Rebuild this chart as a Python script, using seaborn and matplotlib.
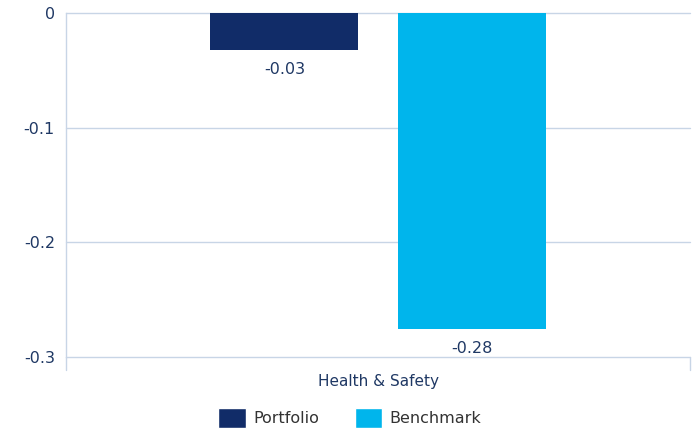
import matplotlib
matplotlib.use("Agg")
import matplotlib.pyplot as plt
import seaborn as sns
import pandas as pd
from matplotlib.patches import Patch
from matplotlib.lines import Line2D

categories = ["Health & Safety"]
series = ["Portfolio", "Benchmark"]
portfolio = [-0.032]
benchmark = [-0.276]
yticks = [0, -0.1, -0.2, -0.3]
ytick_labels = ["0", "-0.1", "-0.2", "-0.3"]

colors = {"Portfolio": "#112C68", "Benchmark": "#00B5EC"}
text_color = "#1F3864"
grid_color = "#C8D5E6"

df = pd.DataFrame({
    "category": categories * 2,
    "series": ["Portfolio"] * len(categories) + ["Benchmark"] * len(categories),
    "value": portfolio + benchmark,
})

sns.set_theme(style="white")
plt.rcParams["font.family"] = ["DejaVu Sans"]

fig = plt.figure(figsize=(7, 4.32), dpi=100)
ax = fig.add_axes([66 / 700, 1 - 357 / 432, (690 - 66) / 700, (357 - 13) / 432])

sns.barplot(data=df, x="category", y="value", hue="series", hue_order=series,
            palette=colors, width=0.6, gap=0.21, saturation=1, ax=ax,
            legend=False, errorbar=None, linewidth=0, edgecolor="none")

ax.set_ylim(-0.3, 0)
ax.set_xlim(-0.5, 0.5)
ax.set_yticks(yticks)
ax.set_yticklabels(ytick_labels)
ax.set_xlabel("")
ax.set_ylabel("")
for y in yticks:
    ax.axhline(y, color=grid_color, lw=1, zorder=0, clip_on=False)
for s in ["top", "right", "bottom"]:
    ax.spines[s].set_visible(False)
ax.spines["left"].set_color(grid_color)
ax.spines["left"].set_linewidth(1)
# category boundary ticks
for xv in [-0.5, 0.5]:
    ax.add_line(Line2D([xv, xv], [-0.3, -0.3 - 13 / 344 * 0.3], color=grid_color,
                       lw=1, clip_on=False))
ax.tick_params(axis="y", length=0, pad=8, labelsize=11.5, labelcolor=text_color)
ax.tick_params(axis="x", length=0, pad=12, labelsize=11, labelcolor=text_color)

for cont in ax.containers:
    for bar in cont:
        h = bar.get_height()
        ax.annotate(f"{h:.2f}", (bar.get_x() + bar.get_width() / 2, h),
                    xytext=(0, -14), textcoords="offset points",
                    ha="center", va="center", fontsize=11.5, color=text_color)

handles = [Patch(facecolor=colors[s], label=s) for s in series]
fig.legend(handles=handles, loc="center", bbox_to_anchor=(0.5, 1 - 418 / 432),
           ncol=2, frameon=False, fontsize=11.5, handlelength=1.7, handleheight=1.5,
           columnspacing=2.2, handletextpad=0.5, labelcolor="#333333")

fig.savefig("out.png", dpi=100)
